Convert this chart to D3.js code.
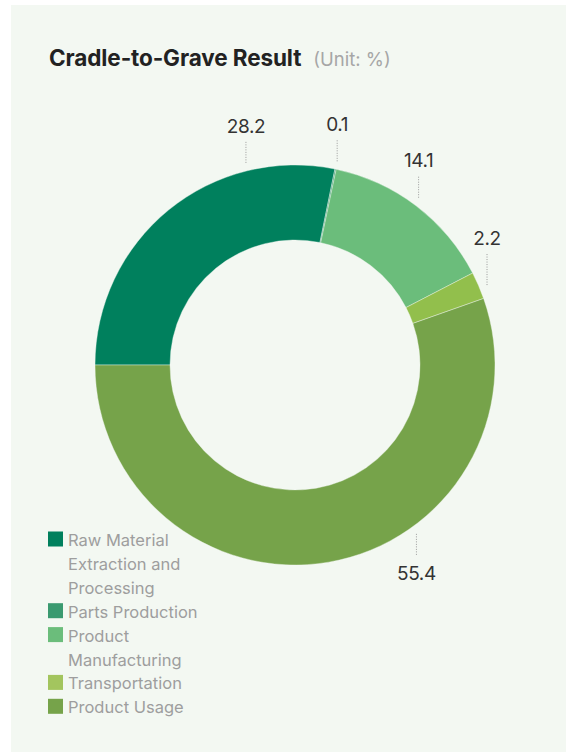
<!DOCTYPE html>
<html>
<head>
<meta charset="utf-8">
<script src="https://cdn.jsdelivr.net/npm/d3@7"></script>
<style>
  html, body { margin: 0; padding: 0; background: #ffffff; }
  svg { display: block; font-family: Inter, "Noto Sans", sans-serif; }
</style>
</head>
<body>
<svg id="chart" width="566" height="752"></svg>
<script>
// Life-cycle stages and their share of the total (%)
const categories = [
  "Raw Material Extraction and Processing",
  "Parts Production",
  "Product Manufacturing",
  "Transportation",
  "Product Usage"
];
const values = [28.2, 0.1, 14.1, 2.2, 55.4];
const colors = ["#00805d", "#3a9a70", "#6bbd7b", "#92bf4c", "#76a34a"];
const legendColors = ["#00805d", "#3a9a70", "#6bbd7b", "#a3c55e", "#76a34a"];

const title = "Cradle-to-Grave Result";
const unit = "(Unit: %)";

const W = 566, H = 752;
const svg = d3.select("#chart");

// card background
svg.append("rect")
  .attr("x", 11).attr("y", 5)
  .attr("width", W - 11).attr("height", H - 5)
  .attr("fill", "#f3f8f2");

// heading
const head = svg.append("text")
  .attr("x", 49).attr("y", 66)
  .attr("font-size", 22.5).attr("font-weight", 700)
  .attr("fill", "#222")
  .attr("letter-spacing", "-0.1")
  .text(title);
const headW = head.node().getComputedTextLength();
svg.append("text")
  .attr("x", 49 + headW + 12).attr("y", 66)
  .attr("font-size", 18.5).attr("fill", "#a6a6a6")
  .text(unit);

// donut
const cx = 295, cy = 365;
const outerR = 200, innerR = 125;

const data = categories.map((c, i) => ({ name: c, value: values[i], color: colors[i] }));

const pie = d3.pie()
  .value(d => d.value)
  .sort(null)
  .startAngle(-Math.PI / 2)
  .endAngle(Math.PI * 1.5);

const arc = d3.arc().innerRadius(innerR).outerRadius(outerR);
const arcs = pie(data);

const g = svg.append("g").attr("transform", `translate(${cx},${cy})`);

g.selectAll("path.slice")
  .data(arcs)
  .join("path")
  .attr("class", "slice")
  .attr("d", arc)
  .attr("fill", d => d.data.color)
  .attr("stroke", "#f3f8f2")
  .attr("stroke-width", 0.4);

// value labels: dotted leader rising (or dropping) from just outside the ring
// angle shift (deg) moves the two big slices' labels toward the top / bottom
const labelShift = [25.6, 0, -0.8, 0.8, -26];
const leaderLen = [21, 21, 22, 31, 22];
const anchorR = 208;

arcs.forEach((a, i) => {
  const mid = (a.startAngle + a.endAngle) / 2 + labelShift[i] * Math.PI / 180;
  const x = anchorR * Math.sin(mid);
  const y = -anchorR * Math.cos(mid);
  const up = y < 0;
  const y2 = up ? y - leaderLen[i] : y + leaderLen[i];
  g.append("line")
    .attr("x1", x).attr("x2", x)
    .attr("y1", y).attr("y2", y2)
    .attr("stroke", "#9a9a9a")
    .attr("stroke-width", 1)
    .attr("stroke-dasharray", "1,1.5");
  g.append("text")
    .attr("x", x)
    .attr("y", up ? y2 - 9 : y2 + 24)
    .attr("text-anchor", "middle")
    .attr("font-size", 19)
    .attr("fill", "#333")
    .attr("letter-spacing", "-0.4")
    .text(d3.format(".1f")(a.data.value));
});

// legend with wrapped names
const legend = svg.append("g").attr("transform", "translate(48,0)");
const lineH = 23.9;
const maxTextW = 135;
let baseline = 546;

categories.forEach((name, i) => {
  legend.append("rect")
    .attr("x", 0).attr("y", baseline - 14.5)
    .attr("width", 15).attr("height", 15)
    .attr("fill", legendColors[i]);

  const words = name.split(" ");
  const lines = [];
  let cur = "";
  const probe = legend.append("text").attr("font-size", 16.5);
  words.forEach(w => {
    const t = cur ? cur + " " + w : w;
    probe.text(t);
    if (probe.node().getComputedTextLength() > maxTextW && cur) {
      lines.push(cur);
      cur = w;
    } else {
      cur = t;
    }
  });
  lines.push(cur);
  probe.remove();

  lines.forEach(l => {
    legend.append("text")
      .attr("x", 20).attr("y", baseline)
      .attr("font-size", 16.5)
      .attr("fill", "#9e9e9e")
      .text(l);
    baseline += lineH;
  });
});
</script>
</body>
</html>
